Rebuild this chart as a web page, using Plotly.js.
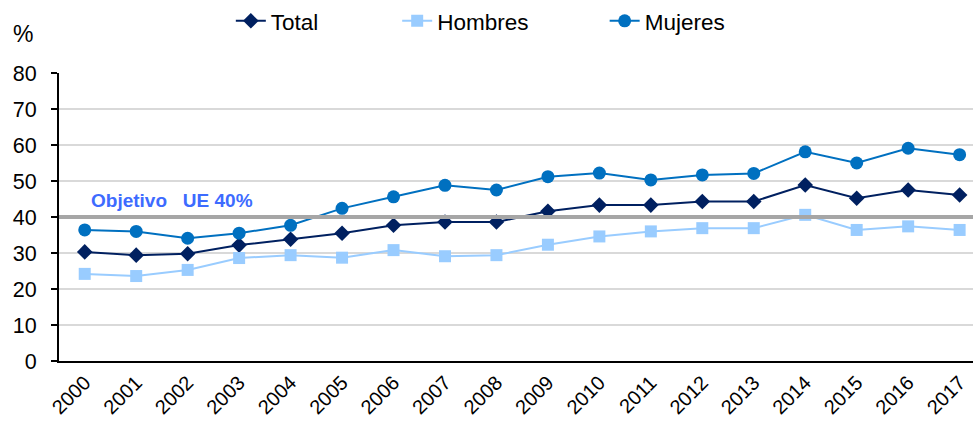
<!DOCTYPE html>
<html>
<head>
<meta charset="utf-8">
<script src="https://cdn.plot.ly/plotly-3.0.1.min.js"></script>
<style>html,body{margin:0;padding:0;background:#fff;}#chart{width:973px;height:423px;}</style>
</head>
<body>
<div id="chart"></div>
<script>
var years = ["2000","2001","2002","2003","2004","2005","2006","2007","2008","2009","2010","2011","2012","2013","2014","2015","2016","2017"];
var total   = [30.3,29.4,29.8,32.2,33.8,35.5,37.7,38.6,38.6,41.6,43.3,43.3,44.3,44.3,48.9,45.2,47.5,46.1];
var hombres = [24.2,23.6,25.3,28.6,29.4,28.7,30.8,29.1,29.4,32.3,34.6,36.0,36.9,36.9,40.6,36.4,37.4,36.4];
var mujeres = [36.4,36.0,34.1,35.5,37.7,42.4,45.6,48.8,47.5,51.2,52.2,50.3,51.7,52.1,58.1,55.0,59.1,57.3];
var objetivo = 40;
var objetivoLabel = "Objetivo&nbsp;&nbsp;&nbsp;UE 40%";
var yTicks = [0,10,20,30,40,50,60,70,80];

var font = "Liberation Sans, Arial, sans-serif";
var traces = [
  {x: years, y: total, name: "Total", type: "scatter", mode: "lines+markers",
   line: {color: "#002060", width: 2}, marker: {symbol: "diamond", size: 12, color: "#002060"}, legend: "legend"},
  {x: years, y: hombres, name: "Hombres", type: "scatter", mode: "lines+markers",
   line: {color: "#99ccff", width: 2}, marker: {symbol: "square", size: 12, color: "#99ccff"}, legend: "legend2"},
  {x: years, y: mujeres, name: "Mujeres", type: "scatter", mode: "lines+markers",
   line: {color: "#0070c0", width: 2}, marker: {symbol: "circle", size: 13, color: "#0070c0"}, legend: "legend3"}
];
var lg = function(xp){ return {x: xp, y: 1.18, xanchor: "left", yanchor: "middle", orientation: "h",
  font: {family: font, size: 22.5, color: "#000"}, bgcolor: "rgba(0,0,0,0)", itemwidth: 30}; };
var layout = {
  width: 973, height: 423,
  margin: {l: 58.5, r: 0, t: 73, b: 62, autoexpand: false},
  paper_bgcolor: "#fff", plot_bgcolor: "#fff",
  showlegend: true,
  legend: lg(0.188), legend2: lg(0.37), legend3: lg(0.597),
  xaxis: {type: "category", range: [-0.5, 17.26], showgrid: false, showline: true, linecolor: "#000", linewidth: 2,
    ticks: "", tickangle: -45, tickfont: {family: font, size: 20, color: "#000"}, zeroline: false, fixedrange: true, automargin: false},
  yaxis: {range: [0, 80], tickvals: yTicks, showgrid: true, gridcolor: "#d9d9d9", gridwidth: 1.5,
    showline: true, linecolor: "#000", linewidth: 2, ticks: "outside", ticklen: 6, tickcolor: "#000", tickwidth: 2,
    ticklabelstandoff: 10,
    tickfont: {family: font, size: 21.5, color: "#000"}, zeroline: false, automargin: false},
  shapes: [{type: "line", xref: "paper", x0: 0, x1: 1, yref: "y", y0: objetivo, y1: objetivo,
    line: {color: "#a6a6a6", width: 4}, layer: "above"}],
  annotations: [
    {xref: "paper", yref: "y", x: 0.033, y: objetivo + 4.7, xanchor: "left", yanchor: "middle",
     text: "<b>" + objetivoLabel + "</b>", showarrow: false, font: {family: font, size: 19, color: "#3d6bff"}},
    {xref: "paper", yref: "paper", x: -0.052, y: 1.135, xanchor: "left", yanchor: "middle",
     text: "%", showarrow: false, font: {family: font, size: 23, color: "#000"}}
  ]
};
Plotly.newPlot("chart", traces, layout, {displayModeBar: false, staticPlot: true});
</script>
</body>
</html>
